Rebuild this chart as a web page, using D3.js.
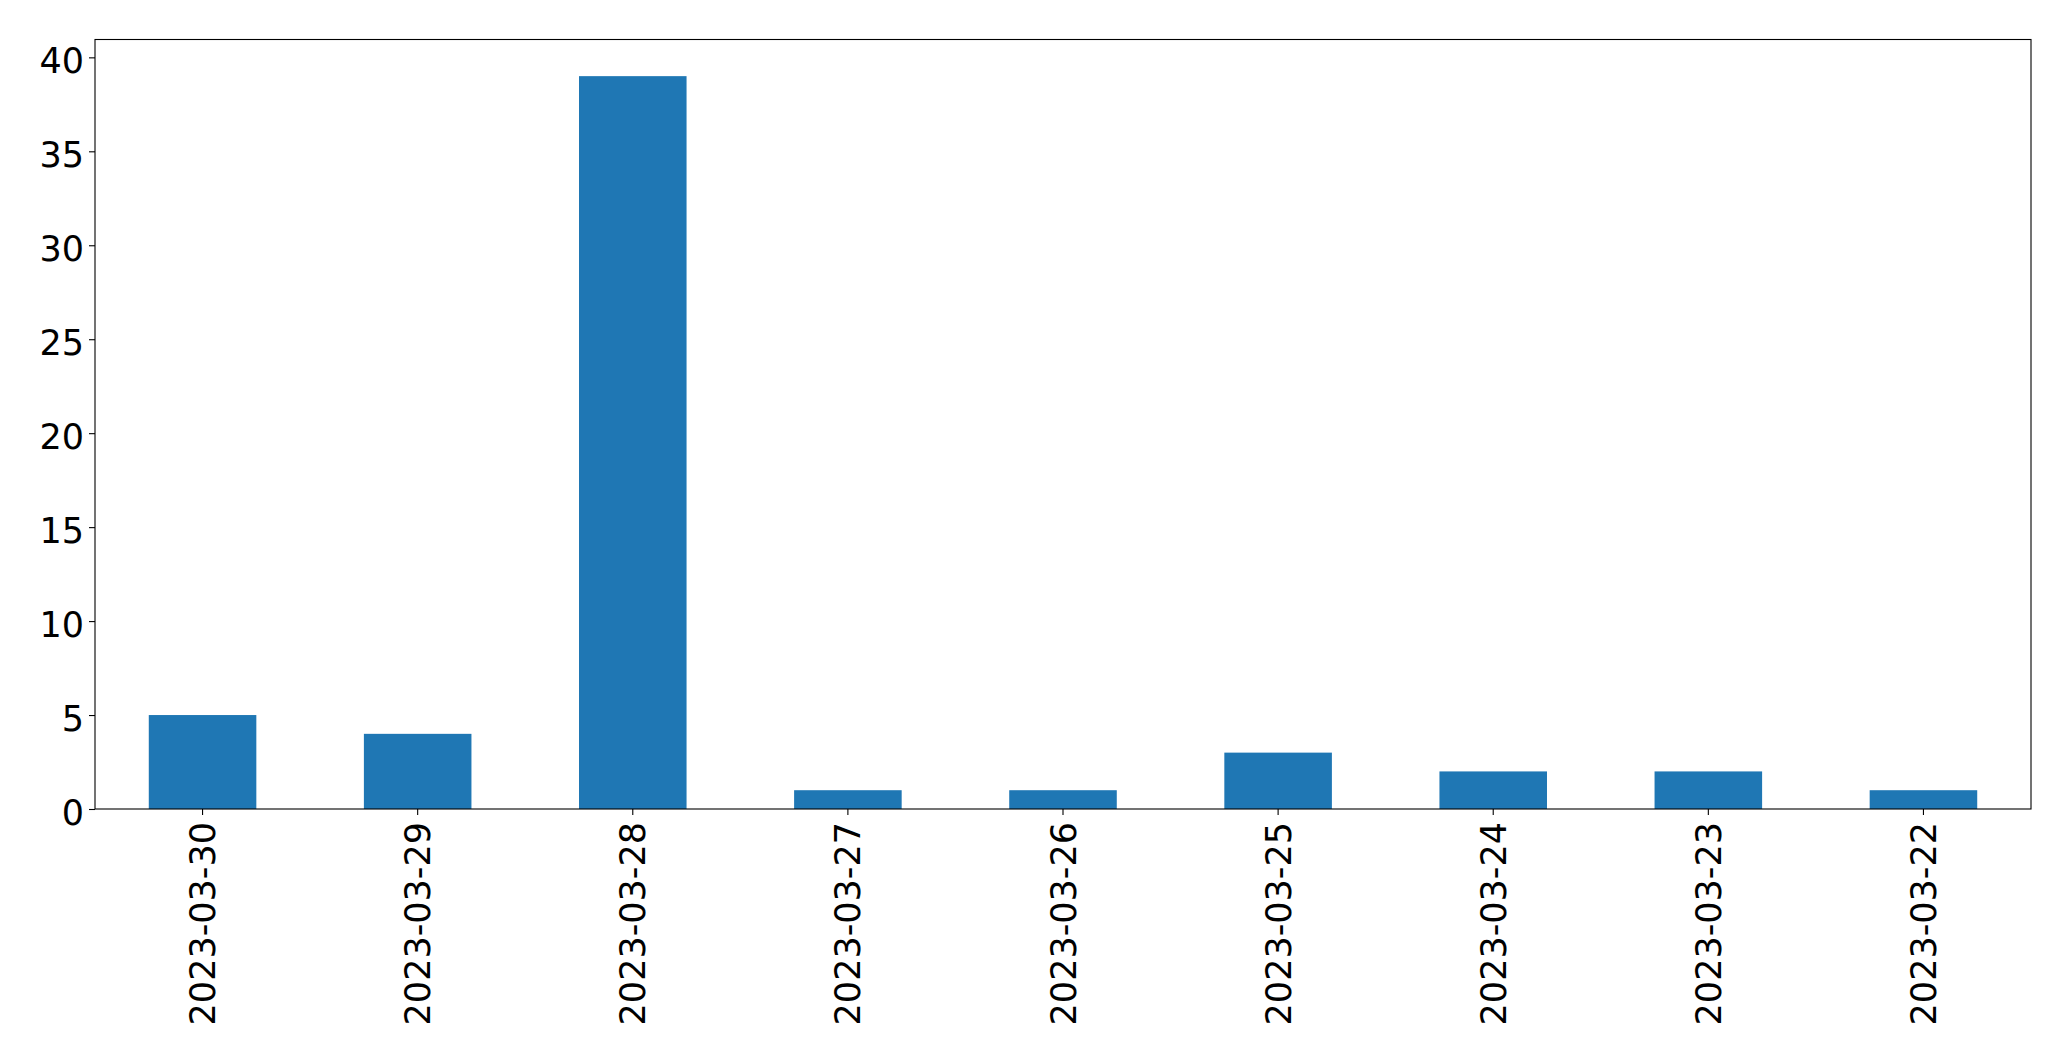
<!DOCTYPE html>
<html>
<head>
<meta charset="utf-8">
<script src="https://cdn.jsdelivr.net/npm/d3@7"></script>
<style>
  html, body { margin: 0; padding: 0; background: #ffffff; }
  svg { display: block; }
  text { font-family: "DejaVu Sans", sans-serif; fill: #000; }
</style>
</head>
<body>
<svg id="chart" width="2071" height="1061"></svg>
<script>
const categories = ["2023-03-30", "2023-03-29", "2023-03-28", "2023-03-27", "2023-03-26", "2023-03-25", "2023-03-24", "2023-03-23", "2023-03-22"];
const values = [5, 4, 39, 1, 1, 3, 2, 2, 1];
const yTicks = [0, 5, 10, 15, 20, 25, 30, 35, 40];

const plotLeft = 95, plotRight = 2031, plotTop = 39.5, plotBottom = 809;
const fontSize = 35;

const svg = d3.select("#chart");

const x = d3.scaleBand()
  .domain(categories)
  .range([plotLeft, plotRight])
  .paddingInner(0.5)
  .paddingOuter(0.25);

const yMax = d3.max(values) * 1.05;
const y = d3.scaleLinear().domain([0, yMax]).range([plotBottom, plotTop]);

// bars
svg.append("g")
  .selectAll("rect")
  .data(values)
  .join("rect")
  .attr("x", (d, i) => x(categories[i]))
  .attr("y", d => y(d))
  .attr("width", x.bandwidth())
  .attr("height", d => y(0) - y(d))
  .attr("fill", "#1f77b4");

// y axis
const yAxis = d3.axisLeft(y).tickValues(yTicks).tickSize(6).tickPadding(5).tickFormat(d3.format("d"));
const gy = svg.append("g").attr("transform", `translate(${plotLeft},0)`).call(yAxis);
gy.select(".domain").remove();
gy.selectAll(".tick line").attr("stroke", "#000").attr("stroke-width", 1.1);
gy.selectAll(".tick text")
  .attr("font-size", fontSize)
  .attr("font-family", "DejaVu Sans, sans-serif")
  .attr("fill", "#000")
  .attr("dy", "0.44em");

// x axis
const xAxis = d3.axisBottom(x).tickSize(6).tickPadding(0);
const gx = svg.append("g").attr("transform", `translate(0,${plotBottom})`).call(xAxis);
gx.select(".domain").remove();
gx.selectAll(".tick line").attr("stroke", "#000").attr("stroke-width", 1.1);
gx.selectAll(".tick text")
  .attr("font-size", fontSize)
  .attr("font-family", "DejaVu Sans, sans-serif")
  .attr("fill", "#000")
  .attr("text-anchor", "end")
  .attr("transform", "rotate(-90)")
  .attr("x", -13)
  .attr("y", 0)
  .attr("dy", "0.36em");

// frame
svg.append("rect")
  .attr("x", plotLeft)
  .attr("y", plotTop)
  .attr("width", plotRight - plotLeft)
  .attr("height", plotBottom - plotTop)
  .attr("fill", "none")
  .attr("stroke", "#000")
  .attr("stroke-width", 1.1);
</script>
</body>
</html>
